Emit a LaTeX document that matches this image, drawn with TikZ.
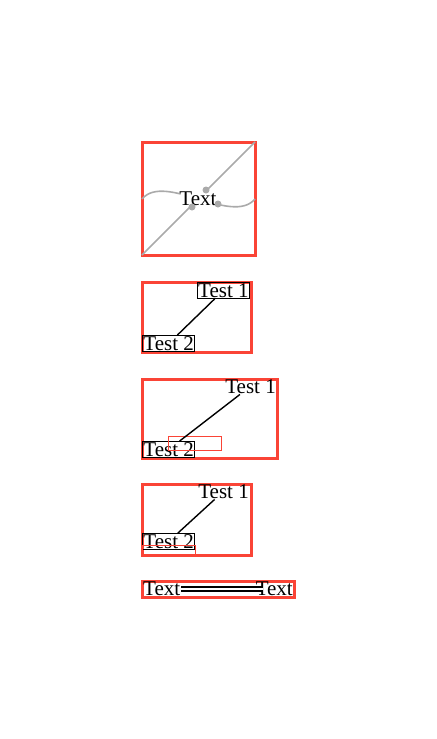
\documentclass[tikz,border=0pt]{standalone}
\usepackage{fontspec}
\setmainfont{Liberation Serif}
\definecolor{frame}{RGB}{250,68,54}
\definecolor{lgray}{RGB}{170,170,170}
\tikzset{
  redframe/.style={draw=frame, line width=1.5pt},
  thinred/.style={draw=frame, line width=0.5pt},
  boxed/.style={draw=black, line width=0.6pt, inner sep=0.4pt, font=\fontsize{10.5}{12.5}\selectfont},
  plain/.style={inner sep=0.4pt, font=\fontsize{10.5}{12.5}\selectfont},
  conn/.style={draw=black, line width=0.7pt},
  grayline/.style={draw=lgray, line width=0.8pt},
  dot/.style={circle, fill=lgray, inner sep=0pt, minimum size=3.5pt},
}
\begin{document}
\begin{tikzpicture}[x=0.5pt,y=-0.5pt]
\useasboundingbox (0,0) rectangle (436,739);
% Panel 1
\draw[redframe] (142,142) rectangle (255,255);
\coordinate (d1) at (142,255);
\coordinate (d2) at (255,142);
\coordinate (c1) at (142,199);
\coordinate (c2) at (255,199);
\draw[grayline] (d1) -- (d2);
\draw[grayline] (c1) .. controls (165,172) and (232,226) .. (c2);
\node[plain, fill=white] (txt) at (198,199) {Text};
\node[dot] (p1) at (206,190) {};
\node[dot] (p2) at (192,207) {};
\node[dot] (p3) at (218,204) {};
% Panel 2
\draw[redframe] (142,282) rectangle (251,352);
\node[boxed, anchor=north east] (a1) at (250,282) {Test 1};
\node[boxed, anchor=south west] (a2) at (142,352) {Test 2};
\draw[conn] (a1) -- (a2);
% Panel 3
\draw[redframe] (142,379) rectangle (277,458);
\node[plain, anchor=north east] (b1) at (277,378) {Test 1};
\node[boxed, anchor=south west] (b2) at (142,458) {Test 2};
\draw[thinred] (168,436) rectangle (221,450);
\draw[conn] (b1) -- (b2);
% Panel 4
\draw[redframe] (142,484) rectangle (251,555);
\node[plain, anchor=north east] (e1) at (250,483) {Test 1};
\node[boxed, anchor=south west] (e2) at (142,550) {Test 2};
\draw[thinred] (142,545) rectangle (195,555);
\draw[conn] (e1) -- (e2);
% Panel 5
\draw[redframe] (142,581) rectangle (294,597);
\node[plain, anchor=west] (f1) at (142,589) {Text};
\node[plain, anchor=east] (f2) at (294,589) {Text};
\draw[draw=black, line width=0.6pt, double=white, double distance=1.4pt, shorten >=-4pt] (f1.east) -- (f2.west);
\end{tikzpicture}
\end{document}
